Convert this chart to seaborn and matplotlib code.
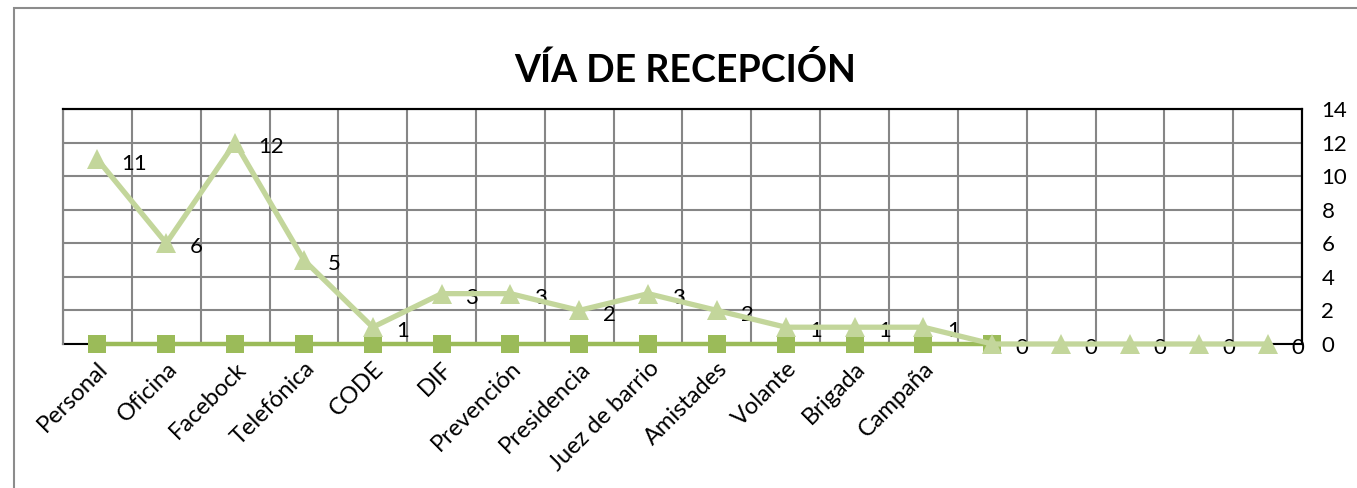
import matplotlib
matplotlib.use('Agg')
import pandas as pd
import seaborn as sns
import matplotlib.pyplot as plt
from matplotlib.patches import Rectangle

# Data
categorias = ['Personal', 'Oficina', 'Facebock', 'Telefónica', 'CODE', 'DIF',
              'Prevención', 'Presidencia', 'Juez de barrio', 'Amistades',
              'Volante', 'Brigada', 'Campaña', '', '', '', '', '']
recepcion = [11, 6, 12, 5, 1, 3, 3, 2, 3, 2, 1, 1, 1, 0, 0, 0, 0, 0]
serie_base = [0, 0, 0, 0, 0, 0, 0, 0, 0, 0, 0, 0, 0, 0]
ticks_y = [0, 2, 4, 6, 8, 10, 12, 14]

sns.set_style('white')
plt.rcParams['font.family'] = ['Lato', 'DejaVu Sans']
plt.rcParams['text.color'] = 'black'
plt.rcParams['xtick.color'] = 'black'
plt.rcParams['ytick.color'] = 'black'

df = pd.DataFrame({'pos': range(len(recepcion)), 'valor': recepcion})
df_base = pd.DataFrame({'pos': range(len(serie_base)), 'valor': serie_base})

fig = plt.figure(figsize=(13.57, 4.88), dpi=100)
# outer chart frame (only left and top edges fall inside the picture)
fig.patches.append(Rectangle((14 / 1357, -0.5), 1.5, 0.5 + (488 - 8) / 488, transform=fig.transFigure,
                             fill=False, edgecolor='#8c8c8c', linewidth=1.5))
ax = fig.add_axes([63 / 1357, 1 - 344 / 488, (1302 - 63) / 1357, (344 - 109) / 488])
ax2 = ax.twinx()

# grid
ax.set_xlim(-0.5, len(categorias) - 0.5)
ax.set_ylim(0, 14)
ax2.set_ylim(0, 14)
ax.set_xticks(range(len(categorias)))
ax.set_xticks([i - 0.5 for i in range(len(categorias) + 1)], minor=True)
ax.set_yticks(ticks_y)
ax.grid(True, which='minor', axis='x', color='#868686', linewidth=1.5)
ax.grid(True, which='major', axis='y', color='#868686', linewidth=1.5)
ax.set_axisbelow(True)

# axes styling
for a in (ax, ax2):
    a.spines['left'].set_color('#868686')
    a.spines['left'].set_linewidth(1.5)
    for s in ('top', 'right', 'bottom'):
        a.spines[s].set_color('black')
        a.spines[s].set_linewidth(1.5)
ax2.spines['bottom'].set_visible(False)
ax.spines['bottom'].set_zorder(1)

# square series (primary axis)
sns.lineplot(data=df_base, x='pos', y='valor', ax=ax, color='#9bbb59', linewidth=3.2,
             marker='s', markersize=13, markeredgewidth=0, clip_on=False, zorder=3)

# triangle series (secondary axis)
sns.lineplot(data=df, x='pos', y='valor', ax=ax2, color='#c3d69b', linewidth=3.8,
             marker='^', markersize=14, markeredgewidth=0, clip_on=False, zorder=4)
for i, v in enumerate(recepcion):
    ax2.annotate(str(v), (i, v), xytext=(17, -3), textcoords='offset points',
                 ha='left', va='center', fontsize=16, color='black', annotation_clip=False)

ax.set_xticklabels(categorias, rotation=45, ha='right', rotation_mode='anchor', fontsize=17)
ax.tick_params(axis='x', which='both', length=0, pad=10)
ax.set_yticklabels([])
ax.tick_params(axis='y', length=0)
ax2.set_yticks(ticks_y)
ax2.tick_params(axis='y', length=0, labelsize=16, pad=14)
ax.set_xlabel('')
ax.set_ylabel('')
ax2.set_ylabel('')

fig.text(685 / 1357, 1 - 70 / 488, 'VÍA DE RECEPCIÓN', ha='center', va='center',
         fontsize=27, fontweight='bold', color='black')

plt.savefig('out.png', dpi=100)
